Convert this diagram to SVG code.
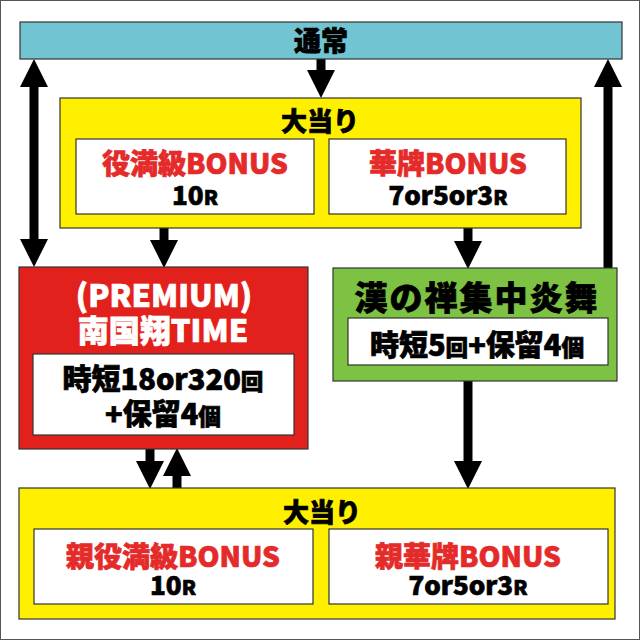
<svg xmlns="http://www.w3.org/2000/svg" width="640" height="640" viewBox="0 0 640 640">
<defs>
<style>
text{font-family:"Noto Sans CJK JP","Noto Sans",sans-serif;font-weight:900;text-anchor:middle;stroke-width:0.7;paint-order:stroke}
.box{stroke:#333;stroke-width:1.2}
.w{fill:#fff;stroke:#333;stroke-width:1.2}
.k{fill:#000;stroke:#000}
.r{fill:#e52a2a;stroke:#e52a2a}
.wt{fill:#fff;stroke:#fff}
.c{stroke:#000;stroke-width:9;fill:none}
.sm{font-size:0.78em}
</style>
<marker id="ah" markerUnits="userSpaceOnUse" markerWidth="30" markerHeight="30" viewBox="0 -15 30 30" refX="0" refY="0" orient="auto-start-reverse">
<path d="M0,-14 L28,0 L0,14 Z" fill="#000"/>
</marker>
</defs>
<rect x="0.5" y="0.5" width="639" height="639" fill="#fff" stroke="#555" stroke-width="1"/>
<g id="connectors">
<line class="c" x1="321" y1="59" x2="321" y2="70" marker-end="url(#ah)"/>
<line class="c" x1="34" y1="87" x2="34" y2="239" marker-start="url(#ah)" marker-end="url(#ah)"/>
<line class="c" x1="608" y1="268" x2="608" y2="87" marker-end="url(#ah)"/>
<line class="c" x1="164" y1="228" x2="164" y2="240" marker-end="url(#ah)"/>
<line class="c" x1="468" y1="228" x2="468" y2="241" marker-end="url(#ah)"/>
<line class="c" x1="150" y1="449" x2="150" y2="461" marker-end="url(#ah)"/>
<line class="c" x1="177" y1="488" x2="177" y2="476" marker-end="url(#ah)"/>
<line class="c" x1="468" y1="381" x2="468" y2="461" marker-end="url(#ah)"/>
</g>
<g id="tsujo">
<rect class="box" x="20" y="22" width="602" height="37" fill="#71c4d1"/>
<text class="k" x="321" y="51" font-size="27">通常</text>
</g>
<g id="oatari1">
<rect class="box" x="60" y="98" width="521" height="130" fill="#fff000"/>
<text class="k" x="320" y="131" font-size="26">大当り</text>
<g id="yakuman">
<rect class="w" x="76" y="139" width="238" height="75"/>
<text class="r" x="195" y="174" font-size="28">役満級BONUS</text>
<text class="k" x="195" y="205" font-size="26">10<tspan class="sm">R</tspan></text>
</g>
<g id="kahai">
<rect class="w" x="329" y="139" width="237" height="75"/>
<text class="r" x="448" y="174" font-size="28">華牌BONUS</text>
<text class="k" x="448" y="205" font-size="26">7or5or3<tspan class="sm">R</tspan></text>
</g>
</g>
<g id="premium">
<rect class="box" x="19" y="267" width="289" height="182" fill="#e3211c"/>
<text class="wt" x="164" y="307" font-size="31">(PREMIUM)</text>
<text class="wt" x="163" y="342" font-size="31">南国翔TIME</text>
<rect class="w" x="33" y="354" width="261" height="81"/>
<text class="k" x="163" y="390" font-size="29">時短18or320<tspan class="sm">回</tspan></text>
<text class="k" x="163" y="425" font-size="29">+保留4<tspan class="sm">個</tspan></text>
</g>
<g id="kan">
<rect class="box" x="333" y="268" width="284" height="113" fill="#7dc243"/>
<text class="k" x="477" y="310" font-size="33" letter-spacing="2">漢の禅集中炎舞</text>
<rect class="w" x="348" y="318" width="260" height="47"/>
<text class="k" x="477" y="356" font-size="29">時短5<tspan class="sm">回</tspan>+保留4<tspan class="sm">個</tspan></text>
</g>
<g id="oatari2">
<rect class="box" x="19" y="488" width="596" height="131" fill="#fff000"/>
<text class="k" x="322" y="522" font-size="26">大当り</text>
<g id="oyayakuman">
<rect class="w" x="34" y="529" width="279" height="75"/>
<text class="r" x="173" y="567" font-size="28">親役満級BONUS</text>
<text class="k" x="173" y="595" font-size="26">10<tspan class="sm">R</tspan></text>
</g>
<g id="oyakahai">
<rect class="w" x="329" y="529" width="279" height="75"/>
<text class="r" x="468" y="567" font-size="28">親華牌BONUS</text>
<text class="k" x="468" y="595" font-size="26">7or5or3<tspan class="sm">R</tspan></text>
</g>
</g>
</svg>
